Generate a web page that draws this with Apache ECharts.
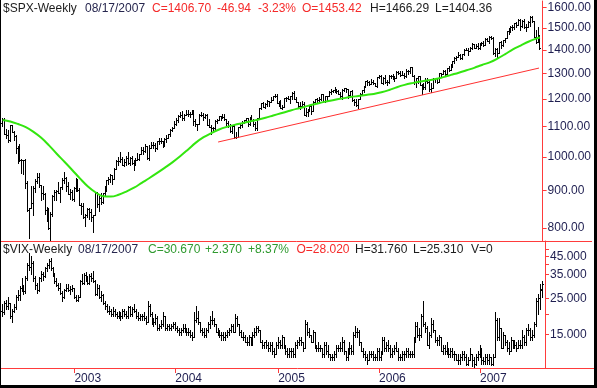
<!DOCTYPE html>
<html>
<head>
<meta charset="utf-8">
<script src="https://cdn.jsdelivr.net/npm/echarts@6/dist/echarts.min.js"></script>
<style>
html,body{margin:0;padding:0;background:#000;width:597px;height:388px;overflow:hidden;}
#chart{position:absolute;left:1px;top:0;width:593px;height:385px;background:#fff;}
</style>
</head>
<body>
<div id="chart"></div>
<script>
// Weekly bars, week 0 = week ending 2002-04-19, week 278 = 2007-08-17
// SPX [open, high, low, close]
const spxBars = [
[1111,1131,1102,1125],[1125,1129,1075,1076],[1076,1093,1063,1073],[1073,1089,1048,1054],[1054,1107,1053,1106],
[1106,1107,1080,1083],[1083,1085,1055,1067],[1067,1070,1012,1027],[1027,1034,981,1007],[1007,1040,988,989],
[989,995,952,990],[990,990,947,989],[989,993,906,921],[921,927,844,847],[847,853,775,852],
[852,912,852,864],[864,913,833,908],[908,933,895,928],[928,951,922,940],[940,950,910,916],
[916,917,873,893],[893,912,877,889],[889,892,837,846],[846,855,817,827],[827,851,798,800],
[800,842,768,835],[835,887,830,884],[884,901,873,897],[897,901,873,900],[900,925,893,894],
[894,911,868,910],[910,937,905,930],[930,954,922,936],[936,939,899,912],[912,924,889,889],
[889,903,876,895],[895,902,873,875],[875,911,870,908],[908,935,898,927],[927,932,900,901],
[901,906,860,861],[861,865,837,856],[856,864,826,829],[829,836,806,834],[834,852,828,848],
[848,852,824,841],[841,849,819,829],[829,834,789,833],[833,895,833,895],[895,895,855,863],
[863,885,843,878],[878,892,862,868],[868,894,865,893],[893,912,887,898],[898,931,898,930],
[930,939,920,933],[933,948,924,944],[944,945,919,933],[933,965,933,963],[963,991,963,987],
[987,1000,975,988],[988,1015,985,995],[995,1000,974,976],[976,994,973,985],[985,1003,975,998],
[998,1015,978,981],[981,999,974,998],[998,1004,978,980],[980,990,960,977],[977,996,974,990],
[990,1011,990,993],[993,1008,990,1008],[1008,1032,1008,1021],[1021,1032,1009,1018],[1018,1040,1015,1036],
[1036,1036,995,996],[996,1039,990,1029],[1029,1048,1028,1038],[1038,1049,1030,1039],[1039,1044,1018,1028],
[1028,1053,1025,1050],[1050,1062,1043,1053],[1053,1063,1045,1050],[1050,1052,1031,1035],[1035,1060,1035,1058],
[1058,1071,1048,1061],[1061,1075,1060,1074],[1074,1092,1067,1088],[1088,1098,1086,1095],[1095,1118,1095,1108],
[1108,1131,1104,1122],[1122,1140,1116,1139],[1139,1150,1135,1141],[1141,1156,1122,1131],[1131,1143,1124,1142],
[1142,1159,1142,1146],[1146,1158,1139,1144],[1144,1152,1135,1145],[1145,1159,1144,1157],[1157,1159,1106,1120],
[1120,1125,1101,1110],[1110,1110,1088,1108],[1108,1144,1108,1141],[1141,1151,1138,1140],[1140,1147,1124,1135],
[1135,1146,1130,1141],[1141,1143,1107,1107],[1107,1125,1098,1099],[1099,1105,1076,1096],[1096,1099,1083,1094],
[1094,1123,1090,1121],[1121,1126,1113,1123],[1123,1137,1123,1137],[1137,1137,1122,1135],[1135,1146,1130,1134],
[1134,1144,1123,1126],[1126,1126,1107,1112],[1112,1120,1100,1101],[1101,1108,1083,1086],[1086,1103,1078,1102],
[1102,1108,1063,1064],[1064,1080,1060,1065],[1065,1100,1064,1099],[1099,1110,1094,1107],[1107,1120,1100,1114],
[1114,1124,1111,1123],[1123,1130,1118,1129],[1129,1130,1102,1110],[1110,1132,1106,1132],[1132,1142,1122,1122],
[1122,1128,1102,1108],[1108,1116,1090,1095],[1095,1131,1090,1130],[1130,1168,1129,1167],[1167,1185,1162,1184],
[1184,1188,1170,1170],[1170,1186,1168,1182],[1182,1197,1173,1191],[1191,1191,1175,1189],[1189,1206,1189,1195],
[1195,1211,1194,1210],[1210,1218,1209,1212],[1212,1217,1183,1186],[1186,1191,1175,1184],[1184,1195,1167,1168],
[1168,1179,1163,1171],[1171,1204,1171,1203],[1203,1208,1191,1205],[1205,1212,1198,1201],[1201,1212,1184,1211],
[1211,1225,1201,1222],[1222,1229,1200,1200],[1200,1207,1188,1190],[1190,1190,1171,1172],[1172,1189,1163,1173],
[1173,1191,1171,1182],[1182,1190,1141,1142],[1142,1165,1136,1152],[1152,1162,1137,1157],[1157,1178,1157,1172],
[1172,1178,1146,1154],[1154,1191,1154,1190],[1190,1199,1185,1199],[1199,1205,1190,1197],[1197,1206,1191,1201],
[1201,1219,1197,1217],[1217,1220,1190,1191],[1191,1212,1188,1211],[1211,1212,1195,1212],[1212,1229,1210,1228],
[1228,1236,1220,1229],[1229,1235,1225,1234],[1234,1245,1225,1226],[1226,1237,1222,1231],[1231,1234,1218,1220],
[1220,1225,1205,1212],[1212,1236,1201,1235],[1235,1243,1231,1241],[1241,1243,1228,1238],[1238,1238,1205,1215],
[1215,1231,1213,1229],[1229,1233,1191,1196],[1196,1199,1176,1187],[1187,1201,1174,1179],[1179,1199,1168,1198],
[1198,1221,1198,1220],[1220,1235,1215,1235],[1235,1249,1225,1248],[1248,1268,1247,1268],[1268,1273,1255,1265],
[1265,1270,1253,1259],[1259,1276,1258,1267],[1267,1272,1259,1260],[1260,1263,1248,1248],[1248,1286,1245,1285],
[1285,1295,1280,1288],[1288,1294,1261,1261],[1261,1286,1258,1283],[1283,1294,1261,1264],[1264,1275,1253,1267],
[1267,1294,1260,1288],[1288,1293,1280,1289],[1289,1297,1278,1287],[1287,1288,1268,1282],[1282,1310,1282,1307],
[1307,1310,1298,1302],[1302,1310,1291,1295],[1295,1311,1294,1295],[1295,1300,1280,1289],[1289,1318,1285,1311],
[1311,1316,1299,1310],[1310,1326,1303,1325],[1325,1326,1291,1291],[1291,1294,1257,1267],[1267,1281,1245,1280],
[1280,1290,1262,1288],[1288,1288,1253,1253],[1253,1257,1219,1251],[1251,1260,1238,1245],[1245,1280,1237,1270],
[1270,1281,1261,1265],[1265,1273,1231,1236],[1236,1260,1225,1240],[1240,1280,1240,1279],[1279,1283,1265,1280],
[1280,1283,1262,1266],[1266,1303,1266,1302],[1302,1303,1290,1296],[1296,1312,1296,1311],[1311,1314,1294,1299],
[1299,1322,1297,1321],[1321,1330,1310,1314],[1314,1340,1313,1336],[1336,1353,1325,1350],[1350,1367,1343,1366],
[1366,1372,1357,1368],[1368,1389,1367,1377],[1377,1382,1360,1364],[1364,1383,1361,1380],[1380,1403,1377,1401],
[1401,1407,1398,1400],[1400,1407,1377,1396],[1396,1411,1395,1409],[1409,1431,1405,1427],[1427,1427,1409,1410],
[1410,1428,1410,1418],[1418,1429,1404,1409],[1409,1432,1403,1431],[1431,1435,1422,1430],[1430,1441,1416,1422],
[1422,1452,1420,1449],[1449,1453,1438,1438],[1438,1461,1432,1456],[1456,1462,1450,1451],[1451,1456,1380,1387],
[1387,1410,1374,1402],[1402,1410,1364,1386],[1386,1437,1386,1437],[1437,1440,1407,1421],[1421,1443,1417,1443],
[1443,1453,1433,1452],[1452,1484,1451,1484],[1484,1498,1471,1494],[1494,1510,1482,1505],[1505,1514,1490,1505],
[1505,1523,1495,1522],[1522,1530,1502,1515],[1515,1540,1515,1536],[1536,1540,1490,1507],[1507,1538,1504,1533],
[1533,1540,1501,1503],[1503,1518,1484,1503],[1503,1532,1503,1530],[1530,1555,1510,1552],[1552,1556,1530,1534],
[1534,1534,1457,1458],[1458,1489,1432,1433],[1433,1504,1433,1453.64],[1453.42,1466.29,1404.36,1406.70]
];

// VIX [open, high, low, close]
const vixBars = [
[21.0,23.0,19.5,20.5],[20.5,24.0,20.0,23.5],[23.5,24.5,21.5,22.5],[22.5,25.5,21.5,23.5],[23.5,23.5,19.0,19.5],
[19.5,21.5,18.0,21.0],[21.0,23.0,20.5,22.0],[22.0,26.0,21.5,25.5],[25.5,28.0,24.5,26.0],[26.0,29.5,24.5,29.0],
[29.0,33.0,27.5,28.5],[28.5,30.0,26.5,27.5],[27.5,34.0,27.0,33.0],[33.0,41.0,32.5,40.0],[40.0,47.0,37.0,38.5],
[38.5,45.5,35.0,41.0],[41.0,42.0,32.0,33.0],[33.0,34.0,28.5,30.0],[30.0,31.0,27.0,28.0],[28.0,33.5,27.5,33.0],
[33.0,36.5,32.0,35.0],[35.0,36.0,32.5,34.0],[34.0,39.0,33.5,38.0],[38.0,41.0,36.5,40.0],[40.0,43.5,38.0,42.0],
[42.0,44.0,37.0,38.0],[38.0,39.0,34.0,35.0],[35.0,35.5,31.0,32.0],[32.0,33.0,29.5,30.0],[30.0,31.0,28.0,29.0],
[29.0,31.0,26.5,27.0],[27.0,27.5,24.0,25.5],[25.5,28.5,25.0,28.0],[28.0,30.5,27.5,29.0],[29.0,30.5,27.5,28.0],
[28.0,29.5,26.5,28.5],[28.5,30.0,27.5,29.0],[29.0,29.0,25.0,25.5],[25.5,26.0,24.0,24.5],[24.5,26.0,24.0,25.5],
[25.5,32.5,25.5,32.0],[32.0,35.0,30.5,31.0],[31.0,35.5,30.5,34.5],[34.5,36.0,32.0,33.0],[33.0,34.0,30.5,31.0],
[31.0,35.0,30.5,34.0],[34.0,35.5,32.0,33.0],[33.0,36.5,31.5,32.0],[32.0,32.5,26.0,26.5],[26.5,30.5,26.0,29.0],
[29.0,30.0,25.0,25.5],[25.5,27.5,24.0,26.0],[26.0,26.5,23.0,23.5],[23.5,24.0,21.5,22.5],[22.5,23.0,20.5,21.0],
[21.0,22.5,20.0,21.0],[21.0,21.5,19.5,20.0],[20.0,22.0,19.5,21.0],[21.0,21.5,19.5,20.0],[20.0,20.5,19.0,19.5],
[19.5,21.0,19.0,20.0],[20.0,20.5,18.5,19.5],[19.5,21.5,19.0,21.0],[21.0,21.5,19.5,20.0],[20.0,21.0,19.0,19.5],
[19.5,22.5,19.0,22.0],[22.0,22.5,19.5,20.0],[20.0,22.0,19.5,21.5],[21.5,23.0,20.5,21.0],[21.0,21.5,19.0,19.5],
[19.5,20.5,18.5,19.0],[19.0,20.0,18.5,19.5],[19.5,20.0,18.5,19.5],[19.5,20.5,18.5,19.0],[19.0,19.5,17.5,18.0],
[18.0,24.0,18.0,22.5],[22.5,23.0,19.5,20.0],[20.0,20.5,17.5,18.0],[18.0,19.0,17.0,18.0],[18.0,20.0,17.5,19.0],
[19.0,19.5,16.0,16.5],[16.5,17.5,16.0,17.0],[17.0,18.5,16.5,17.5],[17.5,20.5,17.0,19.5],[19.5,19.5,16.0,16.5],
[16.5,17.5,16.0,17.0],[17.0,17.5,16.0,16.5],[16.5,17.5,16.0,17.0],[17.0,18.0,16.5,17.5],[17.5,18.0,16.0,16.5],
[16.5,17.0,15.5,16.0],[16.0,16.5,15.0,15.5],[15.5,16.5,15.0,16.0],[16.0,17.5,15.5,16.5],[16.5,17.5,15.5,16.0],
[16.0,16.5,15.0,15.5],[15.5,16.5,15.0,15.5],[15.5,16.0,14.5,15.0],[15.0,15.5,14.0,14.5],[14.5,20.5,14.5,18.5],
[18.5,22.5,18.0,19.0],[19.0,21.0,17.5,18.0],[18.0,18.0,15.5,16.0],[16.0,16.5,15.0,15.5],[15.5,16.5,14.5,15.0],
[15.0,16.5,14.5,16.0],[16.0,18.0,15.5,17.5],[17.5,19.5,16.5,18.5],[18.5,21.0,17.5,18.5],[18.5,19.0,17.0,17.5],
[17.5,17.5,15.5,15.5],[15.5,16.5,15.0,15.5],[15.5,16.0,14.5,15.0],[15.0,15.5,14.0,15.0],[15.0,15.5,14.0,14.5],
[14.5,15.5,14.0,15.0],[15.0,16.0,14.5,15.5],[15.5,16.5,15.0,16.0],[16.0,17.5,15.5,17.0],[17.0,17.5,15.5,15.5],
[15.5,20.0,15.5,19.0],[19.0,19.5,17.0,17.5],[17.5,17.5,15.0,15.5],[15.5,16.0,14.5,14.5],[14.5,15.5,14.0,14.5],
[14.5,15.0,13.5,13.5],[13.5,14.5,13.0,13.5],[13.5,15.0,13.0,14.5],[14.5,14.5,13.0,13.5],[13.5,15.5,13.0,15.0],
[15.0,16.5,14.5,15.5],[15.5,17.0,15.0,16.5],[16.5,17.0,15.5,16.0],[16.0,16.0,13.5,13.5],[13.5,14.0,12.5,13.0],
[13.0,13.5,12.5,13.5],[13.5,14.0,12.5,13.0],[13.0,13.5,12.0,12.5],[12.5,13.5,12.0,13.0],[13.0,13.5,11.5,12.0],
[12.0,12.5,11.0,11.5],[11.5,13.5,11.5,13.0],[13.0,14.5,12.5,13.5],[13.5,14.0,12.5,13.0],[13.0,15.0,12.5,14.5],
[14.5,14.5,12.5,13.0],[13.0,13.0,11.5,12.0],[12.0,12.5,11.0,11.5],[11.5,12.5,11.0,12.0],[12.0,12.5,11.0,12.0],
[12.0,12.5,11.0,11.5],[11.5,13.5,11.0,13.0],[13.0,14.0,12.5,13.5],[13.5,14.5,13.0,14.0],[14.0,14.5,13.0,13.5],
[13.5,13.5,12.0,12.5],[12.5,18.5,12.5,17.5],[17.5,18.0,15.0,15.5],[15.5,16.5,14.5,15.0],[15.0,15.0,13.5,13.5],
[13.5,16.0,13.5,15.5],[15.5,15.5,12.5,13.0],[13.0,13.0,12.0,12.5],[12.5,13.5,12.0,12.5],[12.5,13.0,12.0,12.5],
[12.5,12.5,11.0,11.5],[11.5,13.5,11.0,13.0],[13.0,13.5,11.5,12.0],[12.0,13.0,11.0,11.5],[11.5,11.5,10.5,11.0],
[11.0,11.5,10.5,11.0],[11.0,12.0,10.5,11.5],[11.5,13.0,11.0,12.5],[12.5,13.0,12.0,12.5],[12.5,13.5,12.0,12.5],
[12.5,14.5,12.0,13.5],[13.5,14.0,11.5,12.0],[12.0,12.0,10.5,11.0],[11.0,12.5,10.5,12.0],[12.0,13.5,11.5,12.5],
[12.5,13.0,11.5,12.0],[12.0,15.5,11.5,15.0],[15.0,17.0,14.5,15.5],[15.5,16.5,14.5,15.5],[15.5,16.0,13.0,13.5],
[13.5,13.5,12.0,12.0],[12.0,12.5,11.0,11.5],[11.5,12.0,10.5,11.0],[11.0,11.5,10.0,10.5],[10.5,12.0,10.5,11.5],
[11.5,12.0,11.0,11.5],[11.5,12.0,10.5,11.0],[11.0,11.5,10.5,11.0],[11.0,12.5,10.5,12.0],[12.0,12.5,10.5,11.0],
[11.0,12.0,10.5,11.5],[11.5,14.5,11.5,14.0],[14.0,14.5,12.0,12.5],[12.5,13.5,12.0,13.0],[13.0,14.0,12.0,12.5],
[12.5,13.0,11.0,11.5],[11.5,12.5,11.0,12.0],[12.0,13.0,11.5,12.5],[12.5,13.5,12.0,12.0],[12.0,12.5,10.5,11.0],
[11.0,11.5,10.5,11.0],[11.0,12.0,10.5,11.5],[11.5,12.0,10.5,11.5],[11.5,12.5,11.0,12.0],[12.0,12.5,11.0,11.5],
[11.5,12.0,11.0,11.5],[11.5,12.0,11.0,11.5],[11.5,14.5,11.0,14.0],[14.0,18.0,13.5,17.0],[17.0,18.0,14.5,15.0],
[15.0,16.5,14.0,15.0],[15.0,20.0,14.5,19.5],[19.5,24.0,17.0,17.5],[17.5,18.0,15.5,16.5],[16.5,17.0,13.0,13.0],
[13.0,15.5,12.5,15.0],[15.0,19.0,14.5,17.5],[17.5,18.5,15.5,16.0],[16.0,16.0,13.5,14.0],[14.0,14.5,13.0,14.0],
[14.0,15.0,13.0,14.5],[14.5,14.5,12.0,12.0],[12.0,13.0,11.5,12.5],[12.5,13.0,11.5,12.0],[12.0,13.5,11.5,12.5],
[12.5,12.5,11.0,11.5],[11.5,12.5,11.0,12.0],[12.0,12.5,11.0,11.5],[11.5,12.0,10.5,11.5],[11.5,11.5,10.5,10.5],
[10.5,11.5,10.0,10.5],[10.5,11.5,10.0,11.0],[11.0,12.0,10.5,11.5],[11.5,12.0,10.5,11.0],[11.0,11.5,9.8,10.0],
[10.0,11.0,9.8,10.5],[10.5,12.5,10.5,11.5],[11.5,11.5,9.7,10.5],[10.5,11.0,9.4,10.0],[10.0,11.5,9.8,11.0],
[11.0,12.0,10.5,11.5],[11.5,13.0,11.0,12.0],[12.0,12.5,10.0,10.5],[10.5,11.0,9.9,10.4],[10.4,11.5,10.0,11.0],
[11.0,11.5,10.0,10.5],[10.5,11.5,10.0,11.0],[11.0,11.0,9.8,10.0],[10.0,11.5,9.8,11.0],[11.0,20.5,11.0,18.5],
[18.5,19.0,14.0,14.5],[14.5,19.0,14.0,16.5],[16.5,16.5,12.5,12.5],[12.5,15.5,12.5,15.0],[15.0,15.0,13.0,13.5],
[13.5,14.0,12.0,12.5],[12.5,13.5,11.5,12.0],[12.0,14.5,12.0,14.0],[14.0,14.0,12.5,13.0],[13.0,14.0,12.5,13.0],
[13.0,13.5,12.0,12.5],[12.5,14.0,12.5,13.0],[13.0,14.0,12.5,13.0],[13.0,16.0,12.5,14.5],[14.5,15.0,13.0,13.5],
[13.5,16.5,13.0,16.0],[16.0,17.5,15.0,16.0],[16.0,16.5,14.0,14.5],[14.5,16.0,14.0,15.0],[15.0,18.0,14.5,17.5],
[17.5,25.0,17.0,24.0],[24.0,26.5,20.0,25.0],[25.0,30.5,21.5,28.30],[28.02,31.76,25.31,30.67]
];

const maWeek = [0,4,8,12,16,20,24,28,32,36,40,44,48,52,56,60,64,68,72,76,80,84,88,92,96,100,104,108,112,116,120,124,128,132,136,140,144,148,152,156,160,164,168,172,176,180,184,188,192,196,200,204,208,212,216,220,224,228,232,236,240,244,248,252,256,260,264,268,272,276,278];
const maValue = [1123,1118,1109,1098,1082,1062,1037,1010,985,960,935,912,895,884,883,888,897,908,922,936,951,967,984,1003,1024,1046,1064,1078,1090,1099,1106,1112,1118,1124,1131,1139,1147,1155,1163,1170,1178,1185,1191,1197,1202,1207,1211,1215,1219,1225,1234,1245,1254,1261,1267,1272,1277,1285,1294,1303,1313,1323,1335,1346,1362,1381,1402,1419,1436,1450,1455];

// Red trend line
const trendWeek = [111.5, 277.5];
const trendValue = [1048, 1322];

// Axis ticks / labels
const yearWeeks = [37, 89, 142, 194, 246];
const yearLabels = ['2003', '2004', '2005', '2006', '2007'];
const spxTicks = [800, 900, 1000, 1100, 1200, 1300, 1400, 1500, 1600];
const vixLabels = [15, 25, 35, 45];
const vixTicks = [15, 20, 25, 35, 40, 45, 50];

const FONT = 'Liberation Sans, Arial, Helvetica, sans-serif';
const RED = '#ff3b3b';
const AXISTEXT = '#1e1e50';

function ohlcRender(params, api) {
  const i = api.value(0);
  const o = api.coord([i, api.value(1)]);
  const h = api.coord([i, api.value(2)]);
  const l = api.coord([i, api.value(3)]);
  const c = api.coord([i, api.value(4)]);
  const x = Math.floor(h[0]) + 0.5;
  const yo = Math.round(o[1]) + 0.5;
  const yc = Math.round(c[1]) + 0.5;
  const st = { stroke: '#000', lineWidth: 1 };
  return {
    type: 'group',
    children: [
      { type: 'line', shape: { x1: x, y1: Math.round(h[1]), x2: x, y2: Math.round(l[1]) + 1 }, style: st },
      { type: 'line', shape: { x1: x - 1.5, y1: yo, x2: x - 0.5, y2: yo }, style: st },
      { type: 'line', shape: { x1: x + 0.5, y1: yc, x2: x + 1.5, y2: yc }, style: st }
    ]
  };
}

function txt(x, y, s, color) {
  return { type: 'text', x: x - 1, y: y, silent: true,
    style: { text: s, fill: color, font: '12px ' + FONT, verticalAlign: 'middle', align: 'left' } };
}

const DARK = '#1c1c1c';
const DATE = '#26264e';
const TRED = '#f52a2a';
const TGREEN = '#2f9a2f';

const chart = echarts.init(document.getElementById('chart'), null, { renderer: 'canvas' });

const xMin = -0.824, xMax = 304.73;

chart.setOption({
  animation: false,
  backgroundColor: '#fff',
  grid: [
    { left: 0, top: 1, width: 593, height: 240 },
    { left: 0, top: 241, width: 593, height: 128 }
  ],
  xAxis: [
    { type: 'value', gridIndex: 0, min: xMin, max: xMax, position: 'bottom',
      axisLine: { show: true, onZero: false, lineStyle: { color: RED, width: 1 } },
      axisTick: { show: false }, axisLabel: { show: false }, splitLine: { show: false } },
    { type: 'value', gridIndex: 1, min: xMin, max: xMax, position: 'bottom',
      axisLine: { show: true, onZero: false, lineStyle: { color: RED, width: 1 } },
      axisTick: { show: true, length: 5, lineStyle: { color: RED }, customValues: yearWeeks },
      axisLabel: { show: true, customValues: yearWeeks, align: 'left', margin: 5,
        color: AXISTEXT, fontSize: 12, fontFamily: FONT,
        formatter: function (v) { const k = yearWeeks.indexOf(v); return k >= 0 ? yearLabels[k] : ''; } },
      splitLine: { show: false } }
  ],
  yAxis: [
    { type: 'log', gridIndex: 0, position: 'right', offset: -49, min: 768, max: 1632,
      axisLine: { show: true, onZero: false, lineStyle: { color: RED, width: 1 } },
      axisTick: { show: true, length: 4, lineStyle: { color: RED }, customValues: spxTicks },
      axisLabel: { show: true, customValues: spxTicks, margin: 5, color: AXISTEXT, fontSize: 12, fontFamily: FONT,
        formatter: function (v) { return Number(v).toFixed(2); } },
      splitLine: { show: false } },
    { type: 'log', gridIndex: 1, position: 'right', offset: -49, min: 9.39, max: 55.8,
      axisLine: { show: true, onZero: false, lineStyle: { color: RED, width: 1 } },
      axisTick: { show: true, length: 4, lineStyle: { color: RED }, customValues: vixTicks },
      axisLabel: { show: true, customValues: vixLabels, margin: 5, color: AXISTEXT, fontSize: 12, fontFamily: FONT,
        formatter: function (v) { return Number(v).toFixed(3); } },
      splitLine: { show: false } }
  ],
  series: [
    { type: 'custom', name: 'SPX', xAxisIndex: 0, yAxisIndex: 0, renderItem: ohlcRender,
      encode: { x: 0, y: [1, 2, 3, 4] }, clip: true,
      data: spxBars.map(function (b, i) { return [i, b[0], b[1], b[2], b[3]]; }) },
    { type: 'line', name: 'MA', xAxisIndex: 0, yAxisIndex: 0, showSymbol: false, symbol: 'none', smooth: 0.4,
      lineStyle: { color: '#33e60f', width: 2 }, z: 5,
      data: maWeek.map(function (w, i) { return [w, maValue[i]]; }) },
    { type: 'line', name: 'Trend', xAxisIndex: 0, yAxisIndex: 0, showSymbol: false, symbol: 'none',
      lineStyle: { color: '#ff3030', width: 1 }, z: 5,
      data: trendWeek.map(function (w, i) { return [w, trendValue[i]]; }) },
    { type: 'custom', name: 'VIX', xAxisIndex: 1, yAxisIndex: 1, renderItem: ohlcRender,
      encode: { x: 0, y: [1, 2, 3, 4] }, clip: true,
      data: vixBars.map(function (b, i) { return [i, b[0], b[1], b[2], b[3]]; }) }
  ],
  graphic: [
    txt(3, 9, '$SPX-Weekly', DARK),
    txt(85, 9, '08/17/2007', DATE),
    txt(152, 9, 'C=1406.70', TRED),
    txt(217, 9, '-46.94', TRED),
    txt(258, 9, '-3.23%', TRED),
    txt(302, 9, 'O=1453.42', TRED),
    txt(370, 9, 'H=1466.29', DARK),
    txt(435, 9, 'L=1404.36', DARK),
    txt(3, 249.5, '$VIX-Weekly', DARK),
    txt(78, 249.5, '08/17/2007', DATE),
    txt(148, 249.5, 'C=30.670', TGREEN),
    txt(205, 249.5, '+2.370', TGREEN),
    txt(248, 249.5, '+8.37%', TGREEN),
    txt(296.5, 249.5, 'O=28.020', TRED),
    txt(355, 249.5, 'H=31.760', DARK),
    txt(413, 249.5, 'L=25.310', DARK),
    txt(471, 249.5, 'V=0', DARK)
  ]
});
</script>
</body>
</html>
